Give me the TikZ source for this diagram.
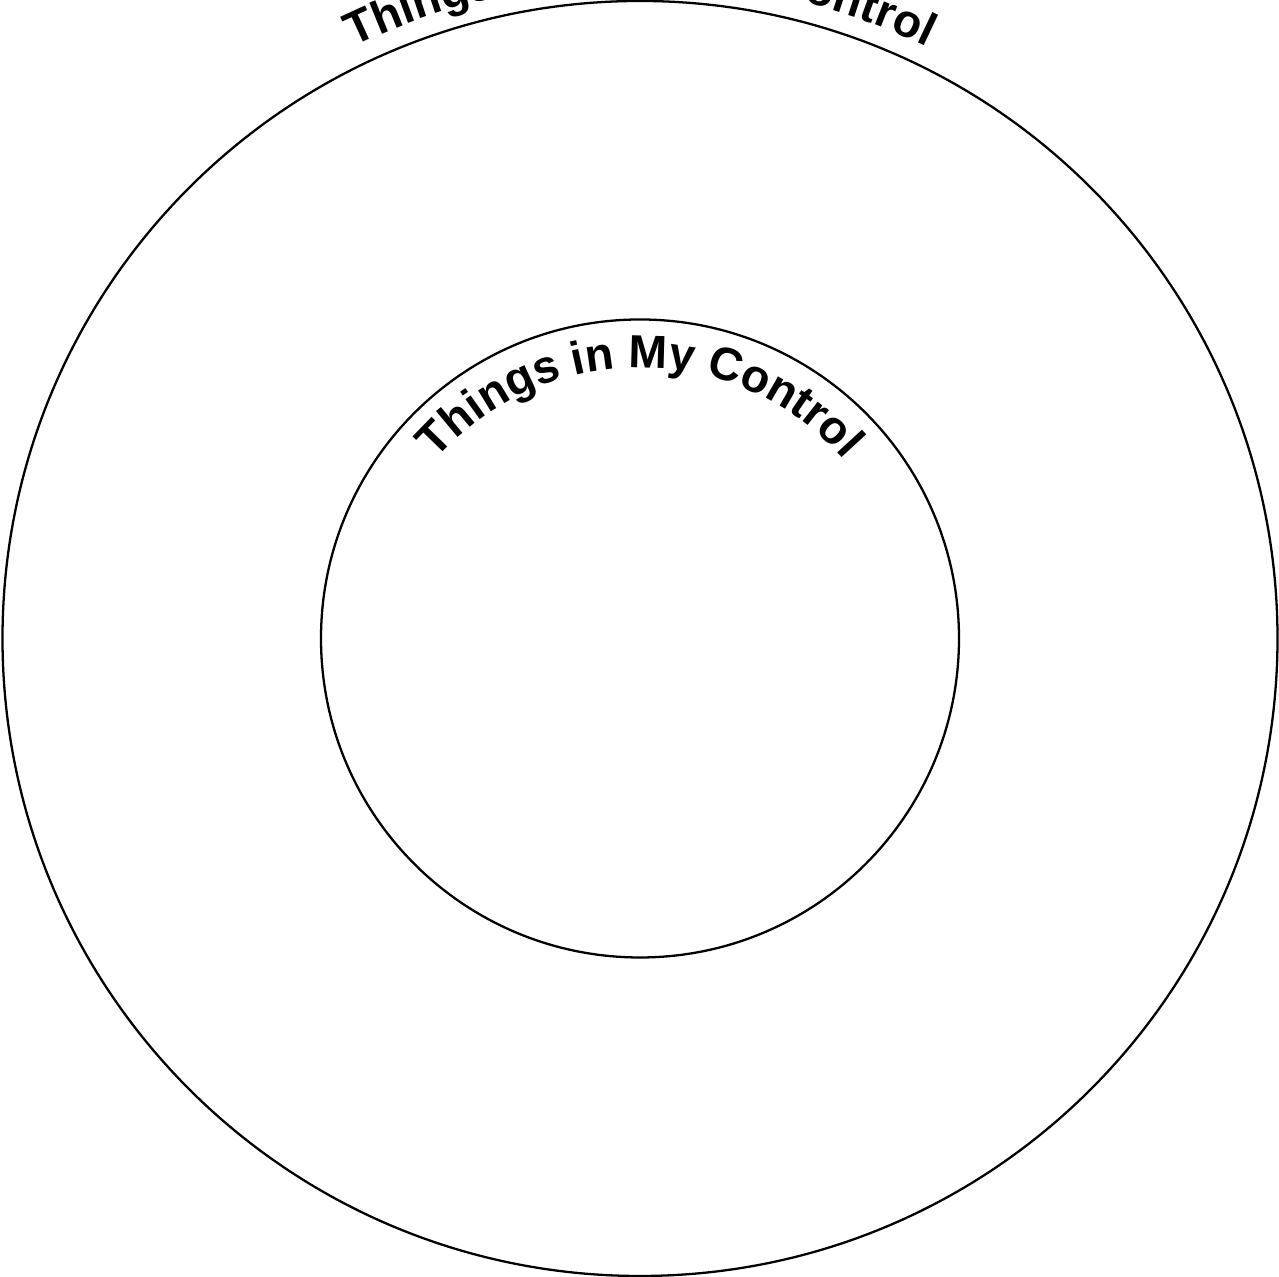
\documentclass[tikz,border=0pt]{standalone}
\usepackage{fontspec}
\setmainfont{Liberation Sans}
\usetikzlibrary{calc,decorations.text}

\begin{document}
\begin{tikzpicture}[
      ring/.style={circle, draw=black, line width=0.65pt, inner sep=0pt},
      curved/.style={decorate, decoration={text along path, text align=center, text={|\fontsize{13.2}{13.2}\selectfont\bfseries|#1}}}
    ]
      \clip (0,0) rectangle (12.79,12.77);
      \coordinate (centre) at (6.40,6.385);

      % Rings
      \node[ring, minimum size=12.75cm] (outer) at (centre) {};
      \node[ring, minimum size=6.38cm] (inner) at (centre) {};

      % Labels bent along the rings
      \path[curved={Things in My Control}] ($(centre)+(180:2.71)$) arc[start angle=180, end angle=0, radius=2.71];
      \path[curved={Things Outside My Control}] ($(centre)+(180:6.57)$) arc[start angle=180, end angle=0, radius=6.57];
    \end{tikzpicture}
\end{document}
